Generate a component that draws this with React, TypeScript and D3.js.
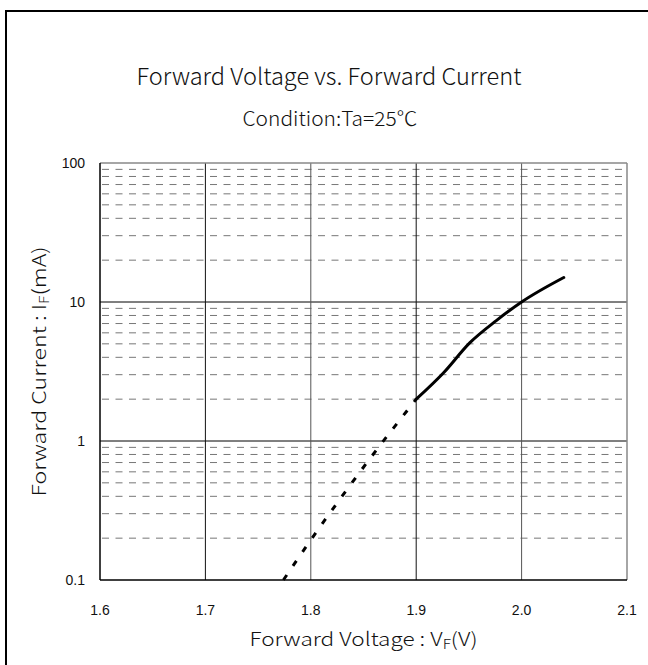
import React from "react";
import * as d3 from "d3";

const xTicks = [1.6, 1.7, 1.8, 1.9, 2.0, 2.1];
const xTickLabels = ["1.6", "1.7", "1.8", "1.9", "2.0", "2.1"];
const yMajor = [0.1, 1, 10, 100];
const yTickLabels = ["0.1", "1", "10", "100"];
const yMinor = [0.2, 0.3, 0.4, 0.5, 0.6, 0.7, 0.8, 0.9, 2, 3, 4, 5, 6, 7, 8, 9, 20, 30, 40, 50, 60, 70, 80, 90];

// extrapolated (dashed) part
const dashedV = [1.774, 1.797, 1.858, 1.9];
const dashedI = [0.1, 0.18, 0.78, 2.0];
// measured (solid) part
const solidV = [1.9, 1.926, 1.951, 1.976, 2.0, 2.04];
const solidI = [2.0, 3.1, 5.1, 7.35, 10.0, 15.0];

const W = 648;
const H = 665;
const L = 100, R = 627, T = 163, B = 580;

export default function App() {
  const x = d3.scaleLinear().domain([1.6, 2.1]).range([L, R]);
  const y = d3.scaleLog().domain([0.1, 100]).range([B, T]);
  const line = d3
    .line<[number, number]>()
    .x((d) => x(d[0]))
    .y((d) => y(d[1]))
    .curve(d3.curveMonotoneX);
  const dashedPts = dashedV.map((v, i) => [v, dashedI[i]] as [number, number]);
  const solidPts = solidV.map((v, i) => [v, solidI[i]] as [number, number]);
  const font = "'Noto Sans CJK JP', 'Noto Sans', sans-serif";
  const tickFont = "'Liberation Sans', Arial, sans-serif";

  return (
    <svg
      width={W}
      height={H}
      style={{ position: "absolute", left: 0, top: 0, background: "#fff" }}
    >
      <rect x={0} y={0} width={W} height={H} fill="#fff" />
      <rect x={6} y={11} width={W + 20} height={H + 20} fill="none" stroke="#000" strokeWidth={2} />

      <text
        x={329}
        y={85}
        textAnchor="middle"
        fontFamily={font}
        fontSize={23}
        fontWeight={300}
        fill="#111"
        textLength={385}
        lengthAdjust="spacingAndGlyphs"
      >
        Forward Voltage vs. Forward Current
      </text>
      <text
        x={330}
        y={126}
        textAnchor="middle"
        fontFamily={font}
        fontSize={20}
        fontWeight={300}
        fill="#111"
        textLength={175}
        lengthAdjust="spacingAndGlyphs"
      >
        Condition:Ta=25℃
      </text>

      {/* minor horizontal dashed gridlines */}
      {yMinor.map((v) => (
        <line
          key={"mn" + v}
          x1={L + 2}
          x2={R}
          y1={y(v)}
          y2={y(v)}
          stroke="#777"
          strokeWidth={1}
          strokeDasharray="7,6.5"
        />
      ))}
      {/* major horizontal gridlines */}
      {yMajor.slice(1, 3).map((v) => (
        <line key={"mj" + v} x1={L} x2={R} y1={y(v)} y2={y(v)} stroke="#000" strokeWidth={1} />
      ))}
      {/* vertical gridlines */}
      {xTicks.slice(1, 5).map((v, i) => (
        <line
          key={"v" + v}
          x1={x(v)}
          x2={x(v)}
          y1={T}
          y2={B}
          stroke={i === 1 || i === 3 ? "#555" : "#111"}
          strokeWidth={1}
        />
      ))}
      {/* frame */}
      <line x1={L} x2={R} y1={T} y2={T} stroke="#888" strokeWidth={1.5} />
      <line x1={R} x2={R} y1={T} y2={B} stroke="#888" strokeWidth={1.5} />
      <line x1={L} x2={L} y1={T} y2={B} stroke="#000" strokeWidth={1.5} />
      <line x1={L} x2={R} y1={B} y2={B} stroke="#000" strokeWidth={1.5} />

      {/* curve */}
      <path d={line(dashedPts) || ""} fill="none" stroke="#000" strokeWidth={3} strokeDasharray="6,11" />
      <path d={line(solidPts) || ""} fill="none" stroke="#000" strokeWidth={3} strokeLinecap="round" />

      {/* y tick labels */}
      {yMajor.map((v, i) => (
        <text
          key={"yt" + v}
          x={85}
          y={y(v) + 5}
          textAnchor="end"
          fontFamily={tickFont}
          fontSize={14}
          fill="#111"
        >
          {yTickLabels[i]}
        </text>
      ))}
      {/* x tick labels */}
      {xTicks.map((v, i) => (
        <text
          key={"xt" + v}
          x={x(v)}
          y={615}
          textAnchor="middle"
          fontFamily={tickFont}
          fontSize={14}
          fill="#111"
        >
          {xTickLabels[i]}
        </text>
      ))}

      <text
        x={(L + R) / 2}
        y={646}
        textAnchor="middle"
        fontFamily={font}
        fontSize={19}
        fontWeight={300}
        fill="#111"
        textLength={228}
        lengthAdjust="spacingAndGlyphs"
      >
        Forward Voltage : V
        <tspan fontSize={13} dy={3}>F</tspan>
        <tspan dy={-3}>(V)</tspan>
      </text>
      <text
        transform={`translate(46, ${(T + B) / 2}) rotate(-90)`}
        textAnchor="middle"
        fontFamily={font}
        fontSize={19}
        fontWeight={300}
        fill="#111"
        textLength={250}
        lengthAdjust="spacingAndGlyphs"
      >
        Forward Current : I
        <tspan fontSize={13} dy={3}>F</tspan>
        <tspan dy={-3}>(mA)</tspan>
      </text>
    </svg>
  );
}
